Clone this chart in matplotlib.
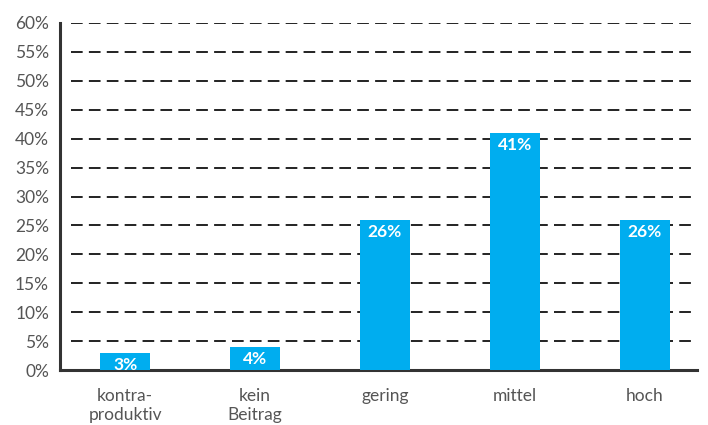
import matplotlib.pyplot as plt

categories = ["kontra-\nproduktiv", "kein\nBeitrag", "gering", "mittel", "hoch"]
values = [3, 4, 26, 41, 26]
y_ticks = [0, 5, 10, 15, 20, 25, 30, 35, 40, 45, 50, 55, 60]

plt.rcParams["font.family"] = ["Lato", "DejaVu Sans"]

fig = plt.figure(figsize=(7.08, 4.25), dpi=100)
ax = fig.add_axes([0.085, 0.129, 0.899, 0.817])

x = list(range(len(categories)))
ax.bar(x, values, width=0.385, color="#00adef", zorder=3)

for xi, v in zip(x, values):
    ax.text(xi, v - 0.7, f"{v}%", ha="center", va="top", color="white",
            fontsize=12.5, fontweight="bold", zorder=4)

# dashed guide lines start a little to the right of the axis
for t in y_ticks[1:]:
    ax.plot([-0.42, 4.4], [t, t], color="#222222", linewidth=1.4,
            linestyle=(0, (6, 3.2)), zorder=1)

ax.set_xlim(-0.5, 4.4)
ax.set_ylim(0, 60)
ax.set_yticks(y_ticks)
ax.set_yticklabels([f"{t}%" for t in y_ticks], fontsize=12.5, color="#555555")
ax.set_xticks(x)
ax.set_xticklabels(categories, fontsize=12.5, color="#555555", linespacing=1.25)
ax.tick_params(length=0, pad=8)
ax.tick_params(axis="x", pad=13)

for side in ["top", "right"]:
    ax.spines[side].set_visible(False)
for side in ["left", "bottom"]:
    ax.spines[side].set_color("#333333")
    ax.spines[side].set_linewidth(2.2)

fig.savefig("out.png", dpi=100)
